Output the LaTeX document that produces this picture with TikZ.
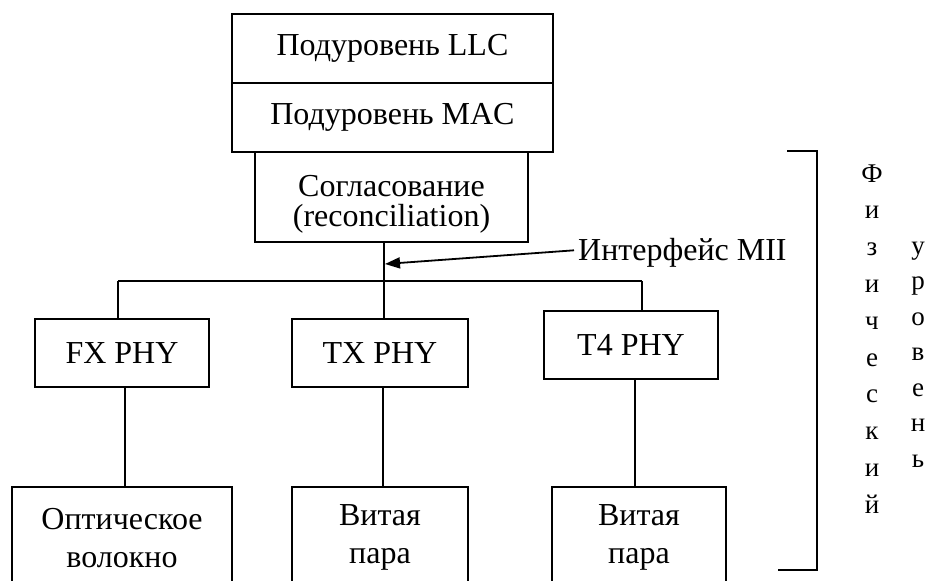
\documentclass[tikz,border=0pt]{standalone}
\usepackage{fontspec}
\setmainfont{Liberation Serif}
\usetikzlibrary{arrows.meta,calc}
\begin{document}
\begin{tikzpicture}[x=1pt,y=-1pt,
  lw/.style={line width=1.8pt},
  box/.style={draw,lw,inner sep=0pt,align=center,font=\fontsize{32}{30}\selectfont},
  lowbox/.style={box,font=\fontsize{32}{38}\selectfont,minimum height=102pt,anchor=north},
  conn/.style={lw},
  vlet/.style={inner sep=0pt,anchor=base,font=\fontsize{27}{30}\selectfont},
  lbl/.style={inner sep=0pt,font=\fontsize{32}{30}\selectfont,align=center}]
\clip (0,0) rectangle (932,581);
\fill[white] (0,0) rectangle (932,581);
% top stack
\node[box,minimum width=321pt,minimum height=69pt] (llc) at (392.5,48.5) {Подуровень LLC};
\node[box,minimum width=321pt,minimum height=69pt] (mac) at (392.5,117.5) {Подуровень MAC};
\node[box,minimum width=273pt,minimum height=90pt] (rec) at (391.5,197) {};
\node[lbl] (rect) at (391.5,204) {Согласование\\(reconciliation)};
% PHY boxes
\node[box,minimum width=174pt,minimum height=68pt] (fx) at (122,353) {FX PHY};
\node[box,minimum width=176pt,minimum height=68pt] (tx) at (380,353) {TX PHY};
\node[box,minimum width=174pt,minimum height=68pt] (t4) at (631,345) {T4 PHY};
% media boxes
\node[lowbox,minimum width=220pt] (opt) at (122,486) {Оптическое\\волокно};
\node[lowbox,minimum width=176pt] (vit1) at (380,486) {Витая\\пара};
\node[lowbox,minimum width=174pt] (vit2) at (639,486) {Витая\\пара};
% bus
\coordinate (j1) at (118,281);
\coordinate (j2) at (384,281);
\coordinate (j3) at (642,281);
\coordinate (tip) at (385,264);
\draw[conn] (rec.south -| j2) -- (tx.north -| j2);
\draw[conn] (j1) -- (j3);
\draw[conn] (j1) -- (fx.north -| j1);
\draw[conn] (j3) -- (t4.north -| j3);
\coordinate (fxb) at ($(fx.south)+(3,0)$);
\coordinate (txb) at ($(tx.south)+(3,0)$);
\coordinate (t4b) at ($(t4.south)+(4,0)$);
\draw[conn] (fxb) -- (fxb |- opt.north);
\draw[conn] (txb) -- (txb |- vit1.north);
\draw[conn] (t4b) -- (t4b |- vit2.north);
% MII label
\node[lbl,anchor=base west] (mii) at (578,260) {Интерфейс MII};
\draw[lw,-{Triangle[length=15pt,width=11pt]}] ([xshift=-4pt,yshift=2pt]mii.west) -- (tip);
% bracket
\coordinate (b1) at (787,151);
\coordinate (b2) at (817,151);
\coordinate (b3) at (817,570);
\coordinate (b4) at (778,570);
\draw[lw] (b1) -- (b2) -- (b3) -- (b4);
% vertical text
\foreach \l [count=\i] in {Ф,и,з,и,ч,е,с,к,и,й}
  \node[vlet] (f\i) at (872,{182+36.8*(\i-1)}) {\l};
\foreach \l [count=\i] in {у,р,о,в,е,н,ь}
  \node[vlet] (u\i) at (918,{254+35.5*(\i-1)}) {\l};
\end{tikzpicture}
\end{document}
